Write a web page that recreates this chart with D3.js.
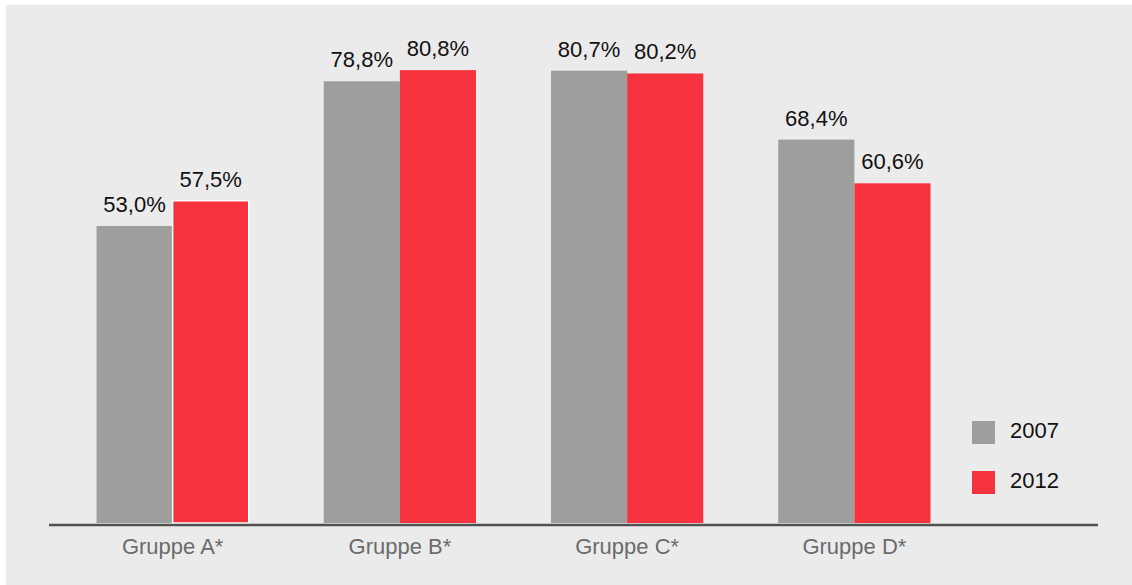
<!DOCTYPE html>
<html>
<head>
<meta charset="utf-8">
<script src="https://cdn.jsdelivr.net/npm/d3@7"></script>
<style>
  html, body { margin: 0; padding: 0; background: #ffffff; }
  svg { display: block; }
  text { font-family: "Liberation Sans", Arial, sans-serif; }
</style>
</head>
<body>
<svg id="chart" width="1132" height="585"></svg>
<script>
// Chart data
const categories = ["Gruppe A*", "Gruppe B*", "Gruppe C*", "Gruppe D*"];
const seriesNames = ["2007", "2012"];
const values2007 = [53.0, 78.8, 80.7, 68.4];
const values2012 = [57.5, 80.8, 80.2, 60.6];
const seriesColors = ["#9d9f9d", "#f7323f"];

const svg = d3.select("#chart");
const W = 1132, H = 585;

// Panel background
svg.append("rect")
  .attr("x", 6).attr("y", 5)
  .attr("width", W - 6).attr("height", H - 5)
  .attr("fill", "#ebebeb");

const baseline = 523;

const x0 = d3.scaleBand()
  .domain(categories)
  .range([59, 968])
  .paddingInner(0.33)
  .paddingOuter(0.165);

const x1 = d3.scaleBand()
  .domain(seriesNames)
  .range([0, x0.bandwidth()])
  .padding(0);

const y = d3.scaleLinear()
  .domain([0, 90])
  .range([baseline, baseline - 90 * 5.605]);

const color = d3.scaleOrdinal().domain(seriesNames).range(seriesColors);

const seriesValues = { "2007": values2007, "2012": values2012 };
const rows = categories.map((c, i) => ({
  cat: c,
  items: seriesNames.map(k => ({ cat: c, key: k, value: seriesValues[k][i] }))
}));

const fmt = v => d3.format(".1f")(v).replace(".", ",") + "%";

const groups = svg.append("g").selectAll("g")
  .data(rows)
  .join("g")
  .attr("transform", d => `translate(${x0(d.cat)},0)`);

// Bars (the first group's 2012 bar carries a thin white outline)
groups.selectAll("rect")
  .data(d => d.items)
  .join("rect")
  .attr("x", d => x1(d.key))
  .attr("y", d => y(d.value))
  .attr("width", x1.bandwidth())
  .attr("height", d => baseline - y(d.value))
  .attr("fill", d => color(d.key))
  .attr("stroke", d => (d.cat === categories[0] && d.key === "2012") ? "#ffffff" : "none")
  .attr("stroke-width", 1.5);

// Value labels
groups.selectAll("text.val")
  .data(d => d.items)
  .join("text")
  .attr("class", "val")
  .attr("x", d => x1(d.key) + x1.bandwidth() / 2)
  .attr("y", d => y(d.value) - 14)
  .attr("text-anchor", "middle")
  .attr("font-size", 22)
  .attr("fill", "#111111")
  .text(d => fmt(d.value));

// Baseline axis
const xAxis = d3.axisBottom(x0).tickSize(0).tickPadding(0);
const axisG = svg.append("g")
  .attr("transform", `translate(0,${baseline + 2})`)
  .call(xAxis);
axisG.select(".domain").remove();
axisG.append("line")
  .attr("x1", 49).attr("x2", 1098)
  .attr("y1", 0).attr("y2", 0)
  .attr("stroke", "#505050")
  .attr("stroke-width", 2.5);
axisG.selectAll(".tick text")
  .attr("y", 29)
  .attr("dy", 0)
  .attr("font-size", 22)
  .attr("font-family", "Liberation Sans, Arial, sans-serif")
  .attr("fill", "#6b6b6b");

// Legend
const legend = svg.append("g").selectAll("g")
  .data(seriesNames)
  .join("g")
  .attr("transform", (d, i) => `translate(972,${421 + i * 50})`);
legend.append("rect")
  .attr("width", 23).attr("height", 23)
  .attr("fill", d => color(d));
legend.append("text")
  .attr("x", 38).attr("y", 17)
  .attr("font-size", 22)
  .attr("fill", "#111111")
  .text(d => d);
</script>
</body>
</html>
